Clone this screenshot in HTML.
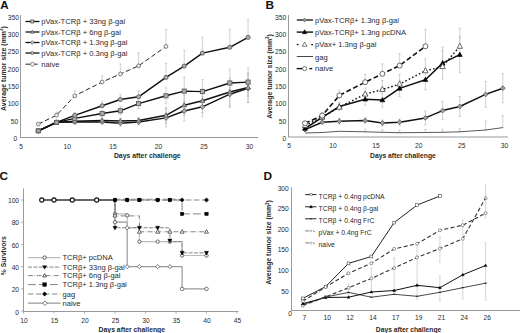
<!DOCTYPE html>
<html><head><meta charset="utf-8"><style>
html,body{margin:0;padding:0;background:#fff;}
body{width:520px;height:333px;overflow:hidden;}
svg{display:block;font-family:"Liberation Sans", sans-serif;}
</style></head><body>
<svg width="520" height="333" viewBox="0 0 520 333">
<rect width="520" height="333" fill="#fff"/>
<text x="0.20" y="8.90" font-size="11.6" text-anchor="start" font-weight="bold" fill="#111" >A</text>
<text x="265.60" y="8.50" font-size="11.8" text-anchor="start" font-weight="bold" fill="#111" >B</text>
<text x="-0.60" y="179.60" font-size="11.8" text-anchor="start" font-weight="bold" fill="#111" >C</text>
<text x="263.50" y="180.20" font-size="11.8" text-anchor="start" font-weight="bold" fill="#111" >D</text>
<line x1="20.50" y1="15.00" x2="20.50" y2="137.50" stroke="#9a9a9a" stroke-width="1" />
<line x1="20.00" y1="137.50" x2="258.00" y2="137.50" stroke="#9a9a9a" stroke-width="1" />
<text x="17.30" y="141.20" font-size="6.7" text-anchor="end" font-weight="normal" fill="#2a2a2a" >0</text>
<text x="18.30" y="123.53" font-size="6.7" text-anchor="end" font-weight="normal" fill="#2a2a2a" >50</text>
<text x="18.80" y="106.26" font-size="6.7" text-anchor="end" font-weight="normal" fill="#2a2a2a" >100</text>
<text x="18.90" y="88.99" font-size="6.7" text-anchor="end" font-weight="normal" fill="#2a2a2a" >150</text>
<text x="19.00" y="71.72" font-size="6.7" text-anchor="end" font-weight="normal" fill="#2a2a2a" >200</text>
<text x="19.00" y="54.45" font-size="6.7" text-anchor="end" font-weight="normal" fill="#2a2a2a" >250</text>
<text x="19.00" y="37.18" font-size="6.7" text-anchor="end" font-weight="normal" fill="#2a2a2a" >300</text>
<text x="19.00" y="19.91" font-size="6.7" text-anchor="end" font-weight="normal" fill="#2a2a2a" >350</text>
<text x="21.00" y="149.00" font-size="6.7" text-anchor="middle" font-weight="normal" fill="#2a2a2a" >5</text>
<text x="67.30" y="149.00" font-size="6.7" text-anchor="middle" font-weight="normal" fill="#2a2a2a" >10</text>
<text x="112.90" y="149.00" font-size="6.7" text-anchor="middle" font-weight="normal" fill="#2a2a2a" >15</text>
<text x="158.40" y="149.00" font-size="6.7" text-anchor="middle" font-weight="normal" fill="#2a2a2a" >20</text>
<text x="204.00" y="149.00" font-size="6.7" text-anchor="middle" font-weight="normal" fill="#2a2a2a" >25</text>
<text x="249.60" y="149.00" font-size="6.7" text-anchor="middle" font-weight="normal" fill="#2a2a2a" >30</text>
<text x="113.90" y="158.20" font-size="6.9" text-anchor="start" font-weight="bold" fill="#2a2a2a" textLength="66.8" lengthAdjust="spacingAndGlyphs">Days after challenge</text>
<text x="0" y="0" font-size="6.9" font-weight="bold" fill="#2a2a2a" text-anchor="middle" transform="translate(5.9,68.6) rotate(-90)">Average tumor size (mm<tspan font-size="4.5" dy="-2.6">3</tspan><tspan dy="2.6">)</tspan></text>
<line x1="74.78" y1="112.40" x2="74.78" y2="115.40" stroke="#bdbdbd" stroke-width="0.7" />
<line x1="73.58" y1="112.40" x2="75.98" y2="112.40" stroke="#bdbdbd" stroke-width="0.7" />
<line x1="73.58" y1="115.40" x2="75.98" y2="115.40" stroke="#bdbdbd" stroke-width="0.7" />
<line x1="102.14" y1="101.80" x2="102.14" y2="105.80" stroke="#bdbdbd" stroke-width="0.7" />
<line x1="100.94" y1="101.80" x2="103.34" y2="101.80" stroke="#bdbdbd" stroke-width="0.7" />
<line x1="100.94" y1="105.80" x2="103.34" y2="105.80" stroke="#bdbdbd" stroke-width="0.7" />
<line x1="120.38" y1="94.50" x2="120.38" y2="99.50" stroke="#bdbdbd" stroke-width="0.7" />
<line x1="119.18" y1="94.50" x2="121.58" y2="94.50" stroke="#bdbdbd" stroke-width="0.7" />
<line x1="119.18" y1="99.50" x2="121.58" y2="99.50" stroke="#bdbdbd" stroke-width="0.7" />
<line x1="138.62" y1="90.80" x2="138.62" y2="96.80" stroke="#bdbdbd" stroke-width="0.7" />
<line x1="137.42" y1="90.80" x2="139.82" y2="90.80" stroke="#bdbdbd" stroke-width="0.7" />
<line x1="137.42" y1="96.80" x2="139.82" y2="96.80" stroke="#bdbdbd" stroke-width="0.7" />
<line x1="165.98" y1="63.40" x2="165.98" y2="77.40" stroke="#bdbdbd" stroke-width="0.7" />
<line x1="164.78" y1="63.40" x2="167.18" y2="63.40" stroke="#bdbdbd" stroke-width="0.7" />
<line x1="164.78" y1="77.40" x2="167.18" y2="77.40" stroke="#bdbdbd" stroke-width="0.7" />
<line x1="184.22" y1="50.10" x2="184.22" y2="66.10" stroke="#bdbdbd" stroke-width="0.7" />
<line x1="183.02" y1="50.10" x2="185.42" y2="50.10" stroke="#bdbdbd" stroke-width="0.7" />
<line x1="183.02" y1="66.10" x2="185.42" y2="66.10" stroke="#bdbdbd" stroke-width="0.7" />
<line x1="202.46" y1="37.10" x2="202.46" y2="53.10" stroke="#bdbdbd" stroke-width="0.7" />
<line x1="201.26" y1="37.10" x2="203.66" y2="37.10" stroke="#bdbdbd" stroke-width="0.7" />
<line x1="201.26" y1="53.10" x2="203.66" y2="53.10" stroke="#bdbdbd" stroke-width="0.7" />
<line x1="229.82" y1="29.30" x2="229.82" y2="47.30" stroke="#bdbdbd" stroke-width="0.7" />
<line x1="228.62" y1="29.30" x2="231.02" y2="29.30" stroke="#bdbdbd" stroke-width="0.7" />
<line x1="228.62" y1="47.30" x2="231.02" y2="47.30" stroke="#bdbdbd" stroke-width="0.7" />
<line x1="248.06" y1="19.40" x2="248.06" y2="37.40" stroke="#bdbdbd" stroke-width="0.7" />
<line x1="246.86" y1="19.40" x2="249.26" y2="19.40" stroke="#bdbdbd" stroke-width="0.7" />
<line x1="246.86" y1="37.40" x2="249.26" y2="37.40" stroke="#bdbdbd" stroke-width="0.7" />
<line x1="74.78" y1="115.40" x2="74.78" y2="121.40" stroke="#bdbdbd" stroke-width="0.7" />
<line x1="73.58" y1="115.40" x2="75.98" y2="115.40" stroke="#bdbdbd" stroke-width="0.7" />
<line x1="73.58" y1="121.40" x2="75.98" y2="121.40" stroke="#bdbdbd" stroke-width="0.7" />
<line x1="102.14" y1="110.50" x2="102.14" y2="116.50" stroke="#bdbdbd" stroke-width="0.7" />
<line x1="100.94" y1="110.50" x2="103.34" y2="110.50" stroke="#bdbdbd" stroke-width="0.7" />
<line x1="100.94" y1="116.50" x2="103.34" y2="116.50" stroke="#bdbdbd" stroke-width="0.7" />
<line x1="120.38" y1="106.80" x2="120.38" y2="114.80" stroke="#bdbdbd" stroke-width="0.7" />
<line x1="119.18" y1="106.80" x2="121.58" y2="106.80" stroke="#bdbdbd" stroke-width="0.7" />
<line x1="119.18" y1="114.80" x2="121.58" y2="114.80" stroke="#bdbdbd" stroke-width="0.7" />
<line x1="138.62" y1="98.60" x2="138.62" y2="108.60" stroke="#bdbdbd" stroke-width="0.7" />
<line x1="137.42" y1="98.60" x2="139.82" y2="98.60" stroke="#bdbdbd" stroke-width="0.7" />
<line x1="137.42" y1="108.60" x2="139.82" y2="108.60" stroke="#bdbdbd" stroke-width="0.7" />
<line x1="165.98" y1="87.80" x2="165.98" y2="103.80" stroke="#bdbdbd" stroke-width="0.7" />
<line x1="164.78" y1="87.80" x2="167.18" y2="87.80" stroke="#bdbdbd" stroke-width="0.7" />
<line x1="164.78" y1="103.80" x2="167.18" y2="103.80" stroke="#bdbdbd" stroke-width="0.7" />
<line x1="184.22" y1="77.10" x2="184.22" y2="105.10" stroke="#bdbdbd" stroke-width="0.7" />
<line x1="183.02" y1="77.10" x2="185.42" y2="77.10" stroke="#bdbdbd" stroke-width="0.7" />
<line x1="183.02" y1="105.10" x2="185.42" y2="105.10" stroke="#bdbdbd" stroke-width="0.7" />
<line x1="202.46" y1="79.60" x2="202.46" y2="103.60" stroke="#bdbdbd" stroke-width="0.7" />
<line x1="201.26" y1="79.60" x2="203.66" y2="79.60" stroke="#bdbdbd" stroke-width="0.7" />
<line x1="201.26" y1="103.60" x2="203.66" y2="103.60" stroke="#bdbdbd" stroke-width="0.7" />
<line x1="229.82" y1="69.00" x2="229.82" y2="97.00" stroke="#bdbdbd" stroke-width="0.7" />
<line x1="228.62" y1="69.00" x2="231.02" y2="69.00" stroke="#bdbdbd" stroke-width="0.7" />
<line x1="228.62" y1="97.00" x2="231.02" y2="97.00" stroke="#bdbdbd" stroke-width="0.7" />
<line x1="248.06" y1="68.10" x2="248.06" y2="96.10" stroke="#bdbdbd" stroke-width="0.7" />
<line x1="246.86" y1="68.10" x2="249.26" y2="68.10" stroke="#bdbdbd" stroke-width="0.7" />
<line x1="246.86" y1="96.10" x2="249.26" y2="96.10" stroke="#bdbdbd" stroke-width="0.7" />
<line x1="102.14" y1="117.50" x2="102.14" y2="123.50" stroke="#bdbdbd" stroke-width="0.7" />
<line x1="100.94" y1="117.50" x2="103.34" y2="117.50" stroke="#bdbdbd" stroke-width="0.7" />
<line x1="100.94" y1="123.50" x2="103.34" y2="123.50" stroke="#bdbdbd" stroke-width="0.7" />
<line x1="120.38" y1="118.00" x2="120.38" y2="124.00" stroke="#bdbdbd" stroke-width="0.7" />
<line x1="119.18" y1="118.00" x2="121.58" y2="118.00" stroke="#bdbdbd" stroke-width="0.7" />
<line x1="119.18" y1="124.00" x2="121.58" y2="124.00" stroke="#bdbdbd" stroke-width="0.7" />
<line x1="138.62" y1="117.50" x2="138.62" y2="123.50" stroke="#bdbdbd" stroke-width="0.7" />
<line x1="137.42" y1="117.50" x2="139.82" y2="117.50" stroke="#bdbdbd" stroke-width="0.7" />
<line x1="137.42" y1="123.50" x2="139.82" y2="123.50" stroke="#bdbdbd" stroke-width="0.7" />
<line x1="165.98" y1="107.30" x2="165.98" y2="123.30" stroke="#bdbdbd" stroke-width="0.7" />
<line x1="164.78" y1="107.30" x2="167.18" y2="107.30" stroke="#bdbdbd" stroke-width="0.7" />
<line x1="164.78" y1="123.30" x2="167.18" y2="123.30" stroke="#bdbdbd" stroke-width="0.7" />
<line x1="184.22" y1="95.20" x2="184.22" y2="115.20" stroke="#bdbdbd" stroke-width="0.7" />
<line x1="183.02" y1="95.20" x2="185.42" y2="95.20" stroke="#bdbdbd" stroke-width="0.7" />
<line x1="183.02" y1="115.20" x2="185.42" y2="115.20" stroke="#bdbdbd" stroke-width="0.7" />
<line x1="202.46" y1="88.70" x2="202.46" y2="112.70" stroke="#bdbdbd" stroke-width="0.7" />
<line x1="201.26" y1="88.70" x2="203.66" y2="88.70" stroke="#bdbdbd" stroke-width="0.7" />
<line x1="201.26" y1="112.70" x2="203.66" y2="112.70" stroke="#bdbdbd" stroke-width="0.7" />
<line x1="229.82" y1="78.00" x2="229.82" y2="106.00" stroke="#bdbdbd" stroke-width="0.7" />
<line x1="228.62" y1="78.00" x2="231.02" y2="78.00" stroke="#bdbdbd" stroke-width="0.7" />
<line x1="228.62" y1="106.00" x2="231.02" y2="106.00" stroke="#bdbdbd" stroke-width="0.7" />
<line x1="248.06" y1="72.50" x2="248.06" y2="102.50" stroke="#bdbdbd" stroke-width="0.7" />
<line x1="246.86" y1="72.50" x2="249.26" y2="72.50" stroke="#bdbdbd" stroke-width="0.7" />
<line x1="246.86" y1="102.50" x2="249.26" y2="102.50" stroke="#bdbdbd" stroke-width="0.7" />
<line x1="120.38" y1="120.20" x2="120.38" y2="126.20" stroke="#bdbdbd" stroke-width="0.7" />
<line x1="119.18" y1="120.20" x2="121.58" y2="120.20" stroke="#bdbdbd" stroke-width="0.7" />
<line x1="119.18" y1="126.20" x2="121.58" y2="126.20" stroke="#bdbdbd" stroke-width="0.7" />
<line x1="138.62" y1="119.00" x2="138.62" y2="125.00" stroke="#bdbdbd" stroke-width="0.7" />
<line x1="137.42" y1="119.00" x2="139.82" y2="119.00" stroke="#bdbdbd" stroke-width="0.7" />
<line x1="137.42" y1="125.00" x2="139.82" y2="125.00" stroke="#bdbdbd" stroke-width="0.7" />
<line x1="165.98" y1="108.90" x2="165.98" y2="126.90" stroke="#bdbdbd" stroke-width="0.7" />
<line x1="164.78" y1="108.90" x2="167.18" y2="108.90" stroke="#bdbdbd" stroke-width="0.7" />
<line x1="164.78" y1="126.90" x2="167.18" y2="126.90" stroke="#bdbdbd" stroke-width="0.7" />
<line x1="184.22" y1="101.00" x2="184.22" y2="121.00" stroke="#bdbdbd" stroke-width="0.7" />
<line x1="183.02" y1="101.00" x2="185.42" y2="101.00" stroke="#bdbdbd" stroke-width="0.7" />
<line x1="183.02" y1="121.00" x2="185.42" y2="121.00" stroke="#bdbdbd" stroke-width="0.7" />
<line x1="202.46" y1="96.80" x2="202.46" y2="116.80" stroke="#bdbdbd" stroke-width="0.7" />
<line x1="201.26" y1="96.80" x2="203.66" y2="96.80" stroke="#bdbdbd" stroke-width="0.7" />
<line x1="201.26" y1="116.80" x2="203.66" y2="116.80" stroke="#bdbdbd" stroke-width="0.7" />
<line x1="229.82" y1="81.20" x2="229.82" y2="107.20" stroke="#bdbdbd" stroke-width="0.7" />
<line x1="228.62" y1="81.20" x2="231.02" y2="81.20" stroke="#bdbdbd" stroke-width="0.7" />
<line x1="228.62" y1="107.20" x2="231.02" y2="107.20" stroke="#bdbdbd" stroke-width="0.7" />
<line x1="248.06" y1="74.40" x2="248.06" y2="102.40" stroke="#bdbdbd" stroke-width="0.7" />
<line x1="246.86" y1="74.40" x2="249.26" y2="74.40" stroke="#bdbdbd" stroke-width="0.7" />
<line x1="246.86" y1="102.40" x2="249.26" y2="102.40" stroke="#bdbdbd" stroke-width="0.7" />
<line x1="56.54" y1="112.20" x2="56.54" y2="115.20" stroke="#bdbdbd" stroke-width="0.7" />
<line x1="55.34" y1="112.20" x2="57.74" y2="112.20" stroke="#bdbdbd" stroke-width="0.7" />
<line x1="55.34" y1="115.20" x2="57.74" y2="115.20" stroke="#bdbdbd" stroke-width="0.7" />
<line x1="74.78" y1="90.80" x2="74.78" y2="95.80" stroke="#bdbdbd" stroke-width="0.7" />
<line x1="73.58" y1="90.80" x2="75.98" y2="90.80" stroke="#bdbdbd" stroke-width="0.7" />
<line x1="73.58" y1="95.80" x2="75.98" y2="95.80" stroke="#bdbdbd" stroke-width="0.7" />
<line x1="102.14" y1="76.00" x2="102.14" y2="82.00" stroke="#bdbdbd" stroke-width="0.7" />
<line x1="100.94" y1="76.00" x2="103.34" y2="76.00" stroke="#bdbdbd" stroke-width="0.7" />
<line x1="100.94" y1="82.00" x2="103.34" y2="82.00" stroke="#bdbdbd" stroke-width="0.7" />
<line x1="120.38" y1="64.00" x2="120.38" y2="74.00" stroke="#bdbdbd" stroke-width="0.7" />
<line x1="119.18" y1="64.00" x2="121.58" y2="64.00" stroke="#bdbdbd" stroke-width="0.7" />
<line x1="119.18" y1="74.00" x2="121.58" y2="74.00" stroke="#bdbdbd" stroke-width="0.7" />
<line x1="138.62" y1="52.80" x2="138.62" y2="65.80" stroke="#bdbdbd" stroke-width="0.7" />
<line x1="137.42" y1="52.80" x2="139.82" y2="52.80" stroke="#bdbdbd" stroke-width="0.7" />
<line x1="137.42" y1="65.80" x2="139.82" y2="65.80" stroke="#bdbdbd" stroke-width="0.7" />
<line x1="165.98" y1="29.50" x2="165.98" y2="46.50" stroke="#bdbdbd" stroke-width="0.7" />
<line x1="164.78" y1="29.50" x2="167.18" y2="29.50" stroke="#bdbdbd" stroke-width="0.7" />
<line x1="164.78" y1="46.50" x2="167.18" y2="46.50" stroke="#bdbdbd" stroke-width="0.7" />
<polyline points="38.30,130.80 56.54,122.40 74.78,122.00 102.14,122.00 120.38,123.20 138.62,122.00 165.98,117.90 184.22,111.00 202.46,106.80 229.82,94.20 248.06,88.40" fill="none" stroke="#111" stroke-width="1.45" stroke-linejoin="round" stroke-linecap="butt"/>
<polyline points="38.30,130.80 56.54,122.40 74.78,121.20 102.14,120.50 120.38,121.00 138.62,120.50 165.98,115.30 184.22,105.20 202.46,100.70 229.82,92.00 248.06,87.50" fill="none" stroke="#111" stroke-width="1.45" stroke-linejoin="round" stroke-linecap="butt"/>
<polyline points="38.30,130.80 56.54,122.40 74.78,118.40 102.14,113.50 120.38,110.80 138.62,103.60 165.98,95.80 184.22,91.10 202.46,91.60 229.82,83.00 248.06,82.10" fill="none" stroke="#111" stroke-width="1.45" stroke-linejoin="round" stroke-linecap="butt"/>
<polyline points="38.30,130.80 56.54,122.40 74.78,115.40 102.14,105.80 120.38,99.50 138.62,96.80 165.98,77.40 184.22,66.10 202.46,53.10 229.82,47.30 248.06,37.40" fill="none" stroke="#111" stroke-width="1.45" stroke-linejoin="round" stroke-linecap="butt"/>
<polyline points="38.30,124.10 56.54,115.20 74.78,95.80 102.14,82.00 120.38,74.00 138.62,65.80 165.98,46.50" fill="none" stroke="#222" stroke-width="1.0" stroke-linejoin="round" stroke-linecap="butt" stroke-dasharray="4.8,2.6"/>
<polygon points="38.30,128.28 40.82,130.80 38.30,133.32 35.78,130.80" fill="#aaa" stroke="#555" stroke-width="0.8"/>
<polygon points="56.54,119.88 59.06,122.40 56.54,124.92 54.02,122.40" fill="#aaa" stroke="#555" stroke-width="0.8"/>
<polygon points="74.78,119.48 77.30,122.00 74.78,124.52 72.26,122.00" fill="#aaa" stroke="#555" stroke-width="0.8"/>
<polygon points="102.14,119.48 104.66,122.00 102.14,124.52 99.62,122.00" fill="#aaa" stroke="#555" stroke-width="0.8"/>
<polygon points="120.38,120.68 122.90,123.20 120.38,125.72 117.86,123.20" fill="#aaa" stroke="#555" stroke-width="0.8"/>
<polygon points="138.62,119.48 141.14,122.00 138.62,124.52 136.10,122.00" fill="#aaa" stroke="#555" stroke-width="0.8"/>
<polygon points="165.98,115.38 168.50,117.90 165.98,120.42 163.46,117.90" fill="#aaa" stroke="#555" stroke-width="0.8"/>
<polygon points="184.22,108.48 186.74,111.00 184.22,113.52 181.70,111.00" fill="#aaa" stroke="#555" stroke-width="0.8"/>
<polygon points="202.46,104.28 204.98,106.80 202.46,109.32 199.94,106.80" fill="#aaa" stroke="#555" stroke-width="0.8"/>
<polygon points="229.82,91.68 232.34,94.20 229.82,96.72 227.30,94.20" fill="#aaa" stroke="#555" stroke-width="0.8"/>
<polygon points="248.06,85.88 250.58,88.40 248.06,90.92 245.54,88.40" fill="#aaa" stroke="#555" stroke-width="0.8"/>
<polygon points="38.30,128.28 40.61,132.48 35.99,132.48" fill="#aaa" stroke="#555" stroke-width="0.8"/>
<polygon points="56.54,119.88 58.85,124.08 54.23,124.08" fill="#aaa" stroke="#555" stroke-width="0.8"/>
<polygon points="74.78,118.68 77.09,122.88 72.47,122.88" fill="#aaa" stroke="#555" stroke-width="0.8"/>
<polygon points="102.14,117.98 104.45,122.18 99.83,122.18" fill="#aaa" stroke="#555" stroke-width="0.8"/>
<polygon points="120.38,118.48 122.69,122.68 118.07,122.68" fill="#aaa" stroke="#555" stroke-width="0.8"/>
<polygon points="138.62,117.98 140.93,122.18 136.31,122.18" fill="#aaa" stroke="#555" stroke-width="0.8"/>
<polygon points="165.98,112.78 168.29,116.98 163.67,116.98" fill="#aaa" stroke="#555" stroke-width="0.8"/>
<polygon points="184.22,102.68 186.53,106.88 181.91,106.88" fill="#aaa" stroke="#555" stroke-width="0.8"/>
<polygon points="202.46,98.18 204.77,102.38 200.15,102.38" fill="#aaa" stroke="#555" stroke-width="0.8"/>
<polygon points="229.82,89.48 232.13,93.68 227.51,93.68" fill="#aaa" stroke="#555" stroke-width="0.8"/>
<polygon points="248.06,84.98 250.37,89.18 245.75,89.18" fill="#aaa" stroke="#555" stroke-width="0.8"/>
<rect x="36.20" y="128.70" width="4.2" height="4.2" fill="#aaa" stroke="#555" stroke-width="0.8"/>
<rect x="54.44" y="120.30" width="4.2" height="4.2" fill="#aaa" stroke="#555" stroke-width="0.8"/>
<rect x="72.68" y="116.30" width="4.2" height="4.2" fill="#aaa" stroke="#555" stroke-width="0.8"/>
<rect x="100.04" y="111.40" width="4.2" height="4.2" fill="#aaa" stroke="#555" stroke-width="0.8"/>
<rect x="118.28" y="108.70" width="4.2" height="4.2" fill="#aaa" stroke="#555" stroke-width="0.8"/>
<rect x="136.52" y="101.50" width="4.2" height="4.2" fill="#aaa" stroke="#555" stroke-width="0.8"/>
<rect x="163.88" y="93.70" width="4.2" height="4.2" fill="#aaa" stroke="#555" stroke-width="0.8"/>
<rect x="182.12" y="89.00" width="4.2" height="4.2" fill="#aaa" stroke="#555" stroke-width="0.8"/>
<rect x="200.36" y="89.50" width="4.2" height="4.2" fill="#aaa" stroke="#555" stroke-width="0.8"/>
<rect x="227.72" y="80.90" width="4.2" height="4.2" fill="#aaa" stroke="#555" stroke-width="0.8"/>
<rect x="245.96" y="80.00" width="4.2" height="4.2" fill="#aaa" stroke="#555" stroke-width="0.8"/>
<circle cx="38.30" cy="130.80" r="2.1" fill="#aaa" stroke="#555" stroke-width="0.8"/>
<circle cx="56.54" cy="122.40" r="2.1" fill="#aaa" stroke="#555" stroke-width="0.8"/>
<circle cx="74.78" cy="115.40" r="2.1" fill="#aaa" stroke="#555" stroke-width="0.8"/>
<circle cx="102.14" cy="105.80" r="2.1" fill="#aaa" stroke="#555" stroke-width="0.8"/>
<circle cx="120.38" cy="99.50" r="2.1" fill="#aaa" stroke="#555" stroke-width="0.8"/>
<circle cx="138.62" cy="96.80" r="2.1" fill="#aaa" stroke="#555" stroke-width="0.8"/>
<circle cx="165.98" cy="77.40" r="2.1" fill="#aaa" stroke="#555" stroke-width="0.8"/>
<circle cx="184.22" cy="66.10" r="2.1" fill="#aaa" stroke="#555" stroke-width="0.8"/>
<circle cx="202.46" cy="53.10" r="2.1" fill="#aaa" stroke="#555" stroke-width="0.8"/>
<circle cx="229.82" cy="47.30" r="2.1" fill="#aaa" stroke="#555" stroke-width="0.8"/>
<circle cx="248.06" cy="37.40" r="2.1" fill="#aaa" stroke="#555" stroke-width="0.8"/>
<circle cx="38.30" cy="124.10" r="1.9" fill="#eee" stroke="#666" stroke-width="0.8"/>
<circle cx="56.54" cy="115.20" r="1.9" fill="#eee" stroke="#666" stroke-width="0.8"/>
<circle cx="74.78" cy="95.80" r="1.9" fill="#eee" stroke="#666" stroke-width="0.8"/>
<circle cx="102.14" cy="82.00" r="1.9" fill="#eee" stroke="#666" stroke-width="0.8"/>
<circle cx="120.38" cy="74.00" r="1.9" fill="#eee" stroke="#666" stroke-width="0.8"/>
<circle cx="138.62" cy="65.80" r="1.9" fill="#eee" stroke="#666" stroke-width="0.8"/>
<circle cx="165.98" cy="46.50" r="1.9" fill="#eee" stroke="#666" stroke-width="0.8"/>
<line x1="25.50" y1="21.50" x2="39.50" y2="21.50" stroke="#111" stroke-width="1.3" />
<rect x="30.80" y="20.00" width="3.0" height="3.0" fill="#ccc" stroke="#444" stroke-width="0.7"/>
<text x="41.30" y="24.30" font-size="7.6" text-anchor="start" font-weight="normal" fill="#2a2a2a" >pVax-TCRβ + 33ng β-gal</text>
<line x1="25.50" y1="32.00" x2="39.50" y2="32.00" stroke="#111" stroke-width="1.3" />
<polygon points="32.30,30.20 33.95,33.20 30.65,33.20" fill="#ccc" stroke="#444" stroke-width="0.7"/>
<text x="41.30" y="34.80" font-size="7.6" text-anchor="start" font-weight="normal" fill="#2a2a2a" >pVax-TCRβ + 6ng β-gal</text>
<line x1="25.50" y1="42.50" x2="39.50" y2="42.50" stroke="#111" stroke-width="1.3" />
<polygon points="32.30,40.70 34.10,42.50 32.30,44.30 30.50,42.50" fill="#ccc" stroke="#444" stroke-width="0.7"/>
<text x="41.30" y="45.30" font-size="7.6" text-anchor="start" font-weight="normal" fill="#2a2a2a" >pVax-TCRβ + 1.3ng β-gal</text>
<line x1="25.50" y1="53.00" x2="39.50" y2="53.00" stroke="#111" stroke-width="1.3" />
<circle cx="32.30" cy="53.00" r="1.5" fill="#ccc" stroke="#444" stroke-width="0.7"/>
<text x="41.30" y="55.80" font-size="7.6" text-anchor="start" font-weight="normal" fill="#2a2a2a" >pVax-TCRβ + 0.3ng β-gal</text>
<line x1="25.50" y1="64.20" x2="30.40" y2="64.20" stroke="#333" stroke-width="1.1" />
<line x1="34.20" y1="64.20" x2="37.60" y2="64.20" stroke="#333" stroke-width="1.1" />
<circle cx="32.50" cy="64.20" r="1.9" fill="#fff" stroke="#555" stroke-width="0.7"/>
<text x="41.30" y="67.00" font-size="7.6" text-anchor="start" font-weight="normal" fill="#2a2a2a" >naive</text>
<line x1="288.50" y1="15.00" x2="288.50" y2="137.00" stroke="#9a9a9a" stroke-width="1" />
<line x1="288.00" y1="137.00" x2="508.00" y2="137.00" stroke="#9a9a9a" stroke-width="1" />
<text x="286.20" y="140.80" font-size="6.7" text-anchor="end" font-weight="normal" fill="#2a2a2a" >0</text>
<text x="286.20" y="123.53" font-size="6.7" text-anchor="end" font-weight="normal" fill="#2a2a2a" >50</text>
<text x="286.20" y="106.26" font-size="6.7" text-anchor="end" font-weight="normal" fill="#2a2a2a" >100</text>
<text x="286.20" y="88.99" font-size="6.7" text-anchor="end" font-weight="normal" fill="#2a2a2a" >150</text>
<text x="286.20" y="71.72" font-size="6.7" text-anchor="end" font-weight="normal" fill="#2a2a2a" >200</text>
<text x="286.20" y="54.45" font-size="6.7" text-anchor="end" font-weight="normal" fill="#2a2a2a" >250</text>
<text x="286.20" y="37.18" font-size="6.7" text-anchor="end" font-weight="normal" fill="#2a2a2a" >300</text>
<text x="286.20" y="19.91" font-size="6.7" text-anchor="end" font-weight="normal" fill="#2a2a2a" >350</text>
<text x="289.10" y="148.30" font-size="6.7" text-anchor="middle" font-weight="normal" fill="#2a2a2a" >5</text>
<text x="333.10" y="148.30" font-size="6.7" text-anchor="middle" font-weight="normal" fill="#2a2a2a" >10</text>
<text x="376.00" y="148.30" font-size="6.7" text-anchor="middle" font-weight="normal" fill="#2a2a2a" >15</text>
<text x="418.80" y="148.30" font-size="6.7" text-anchor="middle" font-weight="normal" fill="#2a2a2a" >20</text>
<text x="461.70" y="148.30" font-size="6.7" text-anchor="middle" font-weight="normal" fill="#2a2a2a" >25</text>
<text x="504.40" y="148.30" font-size="6.7" text-anchor="middle" font-weight="normal" fill="#2a2a2a" >30</text>
<text x="370.00" y="158.20" font-size="6.9" text-anchor="start" font-weight="bold" fill="#2a2a2a" textLength="65.8" lengthAdjust="spacingAndGlyphs">Days after challenge</text>
<text x="0" y="0" font-size="6.9" font-weight="bold" fill="#2a2a2a" text-anchor="middle" transform="translate(272,76.4) rotate(-90)">Average tumor size (mm<tspan font-size="4.5" dy="-2.6">3</tspan><tspan dy="2.6">)</tspan></text>
<line x1="339.40" y1="118.20" x2="339.40" y2="124.20" stroke="#bdbdbd" stroke-width="0.7" />
<line x1="338.20" y1="118.20" x2="340.60" y2="118.20" stroke="#bdbdbd" stroke-width="0.7" />
<line x1="338.20" y1="124.20" x2="340.60" y2="124.20" stroke="#bdbdbd" stroke-width="0.7" />
<line x1="365.20" y1="117.60" x2="365.20" y2="123.60" stroke="#bdbdbd" stroke-width="0.7" />
<line x1="364.00" y1="117.60" x2="366.40" y2="117.60" stroke="#bdbdbd" stroke-width="0.7" />
<line x1="364.00" y1="123.60" x2="366.40" y2="123.60" stroke="#bdbdbd" stroke-width="0.7" />
<line x1="382.40" y1="120.00" x2="382.40" y2="126.00" stroke="#bdbdbd" stroke-width="0.7" />
<line x1="381.20" y1="120.00" x2="383.60" y2="120.00" stroke="#bdbdbd" stroke-width="0.7" />
<line x1="381.20" y1="126.00" x2="383.60" y2="126.00" stroke="#bdbdbd" stroke-width="0.7" />
<line x1="399.60" y1="119.20" x2="399.60" y2="125.20" stroke="#bdbdbd" stroke-width="0.7" />
<line x1="398.40" y1="119.20" x2="400.80" y2="119.20" stroke="#bdbdbd" stroke-width="0.7" />
<line x1="398.40" y1="125.20" x2="400.80" y2="125.20" stroke="#bdbdbd" stroke-width="0.7" />
<line x1="425.40" y1="110.90" x2="425.40" y2="124.90" stroke="#bdbdbd" stroke-width="0.7" />
<line x1="424.20" y1="110.90" x2="426.60" y2="110.90" stroke="#bdbdbd" stroke-width="0.7" />
<line x1="424.20" y1="124.90" x2="426.60" y2="124.90" stroke="#bdbdbd" stroke-width="0.7" />
<line x1="442.60" y1="101.60" x2="442.60" y2="119.60" stroke="#bdbdbd" stroke-width="0.7" />
<line x1="441.40" y1="101.60" x2="443.80" y2="101.60" stroke="#bdbdbd" stroke-width="0.7" />
<line x1="441.40" y1="119.60" x2="443.80" y2="119.60" stroke="#bdbdbd" stroke-width="0.7" />
<line x1="459.80" y1="96.50" x2="459.80" y2="116.50" stroke="#bdbdbd" stroke-width="0.7" />
<line x1="458.60" y1="96.50" x2="461.00" y2="96.50" stroke="#bdbdbd" stroke-width="0.7" />
<line x1="458.60" y1="116.50" x2="461.00" y2="116.50" stroke="#bdbdbd" stroke-width="0.7" />
<line x1="485.60" y1="81.40" x2="485.60" y2="107.40" stroke="#bdbdbd" stroke-width="0.7" />
<line x1="484.40" y1="81.40" x2="486.80" y2="81.40" stroke="#bdbdbd" stroke-width="0.7" />
<line x1="484.40" y1="107.40" x2="486.80" y2="107.40" stroke="#bdbdbd" stroke-width="0.7" />
<line x1="502.80" y1="73.70" x2="502.80" y2="102.70" stroke="#bdbdbd" stroke-width="0.7" />
<line x1="501.60" y1="73.70" x2="504.00" y2="73.70" stroke="#bdbdbd" stroke-width="0.7" />
<line x1="501.60" y1="102.70" x2="504.00" y2="102.70" stroke="#bdbdbd" stroke-width="0.7" />
<line x1="365.20" y1="129.30" x2="365.20" y2="131.80" stroke="#bdbdbd" stroke-width="0.7" />
<line x1="364.00" y1="129.30" x2="366.40" y2="129.30" stroke="#bdbdbd" stroke-width="0.7" />
<line x1="364.00" y1="131.80" x2="366.40" y2="131.80" stroke="#bdbdbd" stroke-width="0.7" />
<line x1="382.40" y1="129.80" x2="382.40" y2="132.30" stroke="#bdbdbd" stroke-width="0.7" />
<line x1="381.20" y1="129.80" x2="383.60" y2="129.80" stroke="#bdbdbd" stroke-width="0.7" />
<line x1="381.20" y1="132.30" x2="383.60" y2="132.30" stroke="#bdbdbd" stroke-width="0.7" />
<line x1="399.60" y1="130.20" x2="399.60" y2="132.70" stroke="#bdbdbd" stroke-width="0.7" />
<line x1="398.40" y1="130.20" x2="400.80" y2="130.20" stroke="#bdbdbd" stroke-width="0.7" />
<line x1="398.40" y1="132.70" x2="400.80" y2="132.70" stroke="#bdbdbd" stroke-width="0.7" />
<line x1="425.40" y1="129.50" x2="425.40" y2="132.50" stroke="#bdbdbd" stroke-width="0.7" />
<line x1="424.20" y1="129.50" x2="426.60" y2="129.50" stroke="#bdbdbd" stroke-width="0.7" />
<line x1="424.20" y1="132.50" x2="426.60" y2="132.50" stroke="#bdbdbd" stroke-width="0.7" />
<line x1="442.60" y1="129.30" x2="442.60" y2="132.30" stroke="#bdbdbd" stroke-width="0.7" />
<line x1="441.40" y1="129.30" x2="443.80" y2="129.30" stroke="#bdbdbd" stroke-width="0.7" />
<line x1="441.40" y1="132.30" x2="443.80" y2="132.30" stroke="#bdbdbd" stroke-width="0.7" />
<line x1="459.80" y1="128.80" x2="459.80" y2="131.80" stroke="#bdbdbd" stroke-width="0.7" />
<line x1="458.60" y1="128.80" x2="461.00" y2="128.80" stroke="#bdbdbd" stroke-width="0.7" />
<line x1="458.60" y1="131.80" x2="461.00" y2="131.80" stroke="#bdbdbd" stroke-width="0.7" />
<line x1="485.60" y1="121.00" x2="485.60" y2="130.00" stroke="#bdbdbd" stroke-width="0.7" />
<line x1="484.40" y1="121.00" x2="486.80" y2="121.00" stroke="#bdbdbd" stroke-width="0.7" />
<line x1="484.40" y1="130.00" x2="486.80" y2="130.00" stroke="#bdbdbd" stroke-width="0.7" />
<line x1="502.80" y1="115.60" x2="502.80" y2="127.60" stroke="#bdbdbd" stroke-width="0.7" />
<line x1="501.60" y1="115.60" x2="504.00" y2="115.60" stroke="#bdbdbd" stroke-width="0.7" />
<line x1="501.60" y1="127.60" x2="504.00" y2="127.60" stroke="#bdbdbd" stroke-width="0.7" />
<line x1="322.20" y1="114.30" x2="322.20" y2="120.30" stroke="#bdbdbd" stroke-width="0.7" />
<line x1="321.00" y1="114.30" x2="323.40" y2="114.30" stroke="#bdbdbd" stroke-width="0.7" />
<line x1="321.00" y1="120.30" x2="323.40" y2="120.30" stroke="#bdbdbd" stroke-width="0.7" />
<line x1="339.40" y1="102.50" x2="339.40" y2="110.50" stroke="#bdbdbd" stroke-width="0.7" />
<line x1="338.20" y1="102.50" x2="340.60" y2="102.50" stroke="#bdbdbd" stroke-width="0.7" />
<line x1="338.20" y1="110.50" x2="340.60" y2="110.50" stroke="#bdbdbd" stroke-width="0.7" />
<line x1="365.20" y1="93.30" x2="365.20" y2="105.30" stroke="#bdbdbd" stroke-width="0.7" />
<line x1="364.00" y1="93.30" x2="366.40" y2="93.30" stroke="#bdbdbd" stroke-width="0.7" />
<line x1="364.00" y1="105.30" x2="366.40" y2="105.30" stroke="#bdbdbd" stroke-width="0.7" />
<line x1="382.40" y1="93.10" x2="382.40" y2="107.10" stroke="#bdbdbd" stroke-width="0.7" />
<line x1="381.20" y1="93.10" x2="383.60" y2="93.10" stroke="#bdbdbd" stroke-width="0.7" />
<line x1="381.20" y1="107.10" x2="383.60" y2="107.10" stroke="#bdbdbd" stroke-width="0.7" />
<line x1="399.60" y1="80.40" x2="399.60" y2="96.40" stroke="#bdbdbd" stroke-width="0.7" />
<line x1="398.40" y1="80.40" x2="400.80" y2="80.40" stroke="#bdbdbd" stroke-width="0.7" />
<line x1="398.40" y1="96.40" x2="400.80" y2="96.40" stroke="#bdbdbd" stroke-width="0.7" />
<line x1="425.40" y1="69.80" x2="425.40" y2="89.80" stroke="#bdbdbd" stroke-width="0.7" />
<line x1="424.20" y1="69.80" x2="426.60" y2="69.80" stroke="#bdbdbd" stroke-width="0.7" />
<line x1="424.20" y1="89.80" x2="426.60" y2="89.80" stroke="#bdbdbd" stroke-width="0.7" />
<line x1="442.60" y1="47.10" x2="442.60" y2="79.10" stroke="#bdbdbd" stroke-width="0.7" />
<line x1="441.40" y1="47.10" x2="443.80" y2="47.10" stroke="#bdbdbd" stroke-width="0.7" />
<line x1="441.40" y1="79.10" x2="443.80" y2="79.10" stroke="#bdbdbd" stroke-width="0.7" />
<line x1="459.80" y1="36.70" x2="459.80" y2="72.70" stroke="#bdbdbd" stroke-width="0.7" />
<line x1="458.60" y1="36.70" x2="461.00" y2="36.70" stroke="#bdbdbd" stroke-width="0.7" />
<line x1="458.60" y1="72.70" x2="461.00" y2="72.70" stroke="#bdbdbd" stroke-width="0.7" />
<line x1="322.20" y1="114.00" x2="322.20" y2="117.00" stroke="#bdbdbd" stroke-width="0.7" />
<line x1="321.00" y1="114.00" x2="323.40" y2="114.00" stroke="#bdbdbd" stroke-width="0.7" />
<line x1="321.00" y1="117.00" x2="323.40" y2="117.00" stroke="#bdbdbd" stroke-width="0.7" />
<line x1="339.40" y1="103.20" x2="339.40" y2="107.20" stroke="#bdbdbd" stroke-width="0.7" />
<line x1="338.20" y1="103.20" x2="340.60" y2="103.20" stroke="#bdbdbd" stroke-width="0.7" />
<line x1="338.20" y1="107.20" x2="340.60" y2="107.20" stroke="#bdbdbd" stroke-width="0.7" />
<line x1="365.20" y1="88.10" x2="365.20" y2="94.10" stroke="#bdbdbd" stroke-width="0.7" />
<line x1="364.00" y1="88.10" x2="366.40" y2="88.10" stroke="#bdbdbd" stroke-width="0.7" />
<line x1="364.00" y1="94.10" x2="366.40" y2="94.10" stroke="#bdbdbd" stroke-width="0.7" />
<line x1="382.40" y1="80.50" x2="382.40" y2="89.50" stroke="#bdbdbd" stroke-width="0.7" />
<line x1="381.20" y1="80.50" x2="383.60" y2="80.50" stroke="#bdbdbd" stroke-width="0.7" />
<line x1="381.20" y1="89.50" x2="383.60" y2="89.50" stroke="#bdbdbd" stroke-width="0.7" />
<line x1="399.60" y1="74.10" x2="399.60" y2="84.10" stroke="#bdbdbd" stroke-width="0.7" />
<line x1="398.40" y1="74.10" x2="400.80" y2="74.10" stroke="#bdbdbd" stroke-width="0.7" />
<line x1="398.40" y1="84.10" x2="400.80" y2="84.10" stroke="#bdbdbd" stroke-width="0.7" />
<line x1="425.40" y1="58.80" x2="425.40" y2="70.80" stroke="#bdbdbd" stroke-width="0.7" />
<line x1="424.20" y1="58.80" x2="426.60" y2="58.80" stroke="#bdbdbd" stroke-width="0.7" />
<line x1="424.20" y1="70.80" x2="426.60" y2="70.80" stroke="#bdbdbd" stroke-width="0.7" />
<line x1="442.60" y1="50.60" x2="442.60" y2="66.60" stroke="#bdbdbd" stroke-width="0.7" />
<line x1="441.40" y1="50.60" x2="443.80" y2="50.60" stroke="#bdbdbd" stroke-width="0.7" />
<line x1="441.40" y1="66.60" x2="443.80" y2="66.60" stroke="#bdbdbd" stroke-width="0.7" />
<line x1="459.80" y1="28.30" x2="459.80" y2="46.30" stroke="#bdbdbd" stroke-width="0.7" />
<line x1="458.60" y1="28.30" x2="461.00" y2="28.30" stroke="#bdbdbd" stroke-width="0.7" />
<line x1="458.60" y1="46.30" x2="461.00" y2="46.30" stroke="#bdbdbd" stroke-width="0.7" />
<line x1="322.20" y1="112.50" x2="322.20" y2="115.50" stroke="#bdbdbd" stroke-width="0.7" />
<line x1="321.00" y1="112.50" x2="323.40" y2="112.50" stroke="#bdbdbd" stroke-width="0.7" />
<line x1="321.00" y1="115.50" x2="323.40" y2="115.50" stroke="#bdbdbd" stroke-width="0.7" />
<line x1="339.40" y1="90.40" x2="339.40" y2="95.40" stroke="#bdbdbd" stroke-width="0.7" />
<line x1="338.20" y1="90.40" x2="340.60" y2="90.40" stroke="#bdbdbd" stroke-width="0.7" />
<line x1="338.20" y1="95.40" x2="340.60" y2="95.40" stroke="#bdbdbd" stroke-width="0.7" />
<line x1="365.20" y1="74.20" x2="365.20" y2="82.20" stroke="#bdbdbd" stroke-width="0.7" />
<line x1="364.00" y1="74.20" x2="366.40" y2="74.20" stroke="#bdbdbd" stroke-width="0.7" />
<line x1="364.00" y1="82.20" x2="366.40" y2="82.20" stroke="#bdbdbd" stroke-width="0.7" />
<line x1="382.40" y1="63.80" x2="382.40" y2="73.80" stroke="#bdbdbd" stroke-width="0.7" />
<line x1="381.20" y1="63.80" x2="383.60" y2="63.80" stroke="#bdbdbd" stroke-width="0.7" />
<line x1="381.20" y1="73.80" x2="383.60" y2="73.80" stroke="#bdbdbd" stroke-width="0.7" />
<line x1="399.60" y1="53.60" x2="399.60" y2="65.60" stroke="#bdbdbd" stroke-width="0.7" />
<line x1="398.40" y1="53.60" x2="400.80" y2="53.60" stroke="#bdbdbd" stroke-width="0.7" />
<line x1="398.40" y1="65.60" x2="400.80" y2="65.60" stroke="#bdbdbd" stroke-width="0.7" />
<line x1="425.40" y1="29.30" x2="425.40" y2="46.30" stroke="#bdbdbd" stroke-width="0.7" />
<line x1="424.20" y1="29.30" x2="426.60" y2="29.30" stroke="#bdbdbd" stroke-width="0.7" />
<line x1="424.20" y1="46.30" x2="426.60" y2="46.30" stroke="#bdbdbd" stroke-width="0.7" />
<polyline points="305.00,133.00 322.20,132.50 339.40,131.30 365.20,131.80 382.40,132.30 399.60,132.70 425.40,132.50 442.60,132.30 459.80,131.80 485.60,130.00 502.80,127.60" fill="none" stroke="#444" stroke-width="0.9" stroke-linejoin="round" stroke-linecap="butt"/>
<polyline points="305.00,129.60 322.20,122.20 339.40,121.20 365.20,120.60 382.40,123.00 399.60,122.20 425.40,117.90 442.60,110.60 459.80,106.50 485.60,94.40 502.80,88.20" fill="none" stroke="#111" stroke-width="1.5" stroke-linejoin="round" stroke-linecap="butt"/>
<polyline points="305.00,128.50 322.20,117.30 339.40,106.50 365.20,99.30 382.40,100.10 399.60,88.40 425.40,79.80 442.60,63.10 459.80,54.70" fill="none" stroke="#111" stroke-width="1.5" stroke-linejoin="round" stroke-linecap="butt"/>
<polyline points="305.00,125.50 322.20,117.00 339.40,107.20 365.20,94.10 382.40,89.50 399.60,84.10 425.40,70.80 442.60,66.60 459.80,46.30" fill="none" stroke="#111" stroke-width="1.4" stroke-linejoin="round" stroke-linecap="butt" stroke-dasharray="1.6,2.2"/>
<polyline points="305.00,123.30 322.20,115.50 339.40,95.40 365.20,82.20 382.40,73.80 399.60,65.60 425.40,46.30" fill="none" stroke="#111" stroke-width="1.6" stroke-linejoin="round" stroke-linecap="butt" stroke-dasharray="5,2.6"/>
<polygon points="305.00,127.20 307.40,129.60 305.00,132.00 302.60,129.60" fill="#a0a0a0" stroke="#555" stroke-width="0.8"/>
<polygon points="322.20,119.80 324.60,122.20 322.20,124.60 319.80,122.20" fill="#a0a0a0" stroke="#555" stroke-width="0.8"/>
<polygon points="339.40,118.80 341.80,121.20 339.40,123.60 337.00,121.20" fill="#a0a0a0" stroke="#555" stroke-width="0.8"/>
<polygon points="365.20,118.20 367.60,120.60 365.20,123.00 362.80,120.60" fill="#a0a0a0" stroke="#555" stroke-width="0.8"/>
<polygon points="382.40,120.60 384.80,123.00 382.40,125.40 380.00,123.00" fill="#a0a0a0" stroke="#555" stroke-width="0.8"/>
<polygon points="399.60,119.80 402.00,122.20 399.60,124.60 397.20,122.20" fill="#a0a0a0" stroke="#555" stroke-width="0.8"/>
<polygon points="425.40,115.50 427.80,117.90 425.40,120.30 423.00,117.90" fill="#a0a0a0" stroke="#555" stroke-width="0.8"/>
<polygon points="442.60,108.20 445.00,110.60 442.60,113.00 440.20,110.60" fill="#a0a0a0" stroke="#555" stroke-width="0.8"/>
<polygon points="459.80,104.10 462.20,106.50 459.80,108.90 457.40,106.50" fill="#a0a0a0" stroke="#555" stroke-width="0.8"/>
<polygon points="485.60,92.00 488.00,94.40 485.60,96.80 483.20,94.40" fill="#a0a0a0" stroke="#555" stroke-width="0.8"/>
<polygon points="502.80,85.80 505.20,88.20 502.80,90.60 500.40,88.20" fill="#a0a0a0" stroke="#555" stroke-width="0.8"/>
<polygon points="305.00,125.86 307.42,130.26 302.58,130.26" fill="#000" stroke="#000" stroke-width="0.6"/>
<polygon points="322.20,114.66 324.62,119.06 319.78,119.06" fill="#000" stroke="#000" stroke-width="0.6"/>
<polygon points="339.40,103.86 341.82,108.26 336.98,108.26" fill="#000" stroke="#000" stroke-width="0.6"/>
<polygon points="365.20,96.66 367.62,101.06 362.78,101.06" fill="#000" stroke="#000" stroke-width="0.6"/>
<polygon points="382.40,97.46 384.82,101.86 379.98,101.86" fill="#000" stroke="#000" stroke-width="0.6"/>
<polygon points="399.60,85.76 402.02,90.16 397.18,90.16" fill="#000" stroke="#000" stroke-width="0.6"/>
<polygon points="425.40,77.16 427.82,81.56 422.98,81.56" fill="#000" stroke="#000" stroke-width="0.6"/>
<polygon points="442.60,60.46 445.02,64.86 440.18,64.86" fill="#000" stroke="#000" stroke-width="0.6"/>
<polygon points="459.80,52.06 462.22,56.46 457.38,56.46" fill="#000" stroke="#000" stroke-width="0.6"/>
<polygon points="305.00,122.50 307.75,127.50 302.25,127.50" fill="#fff" stroke="#444" stroke-width="0.8"/>
<polygon points="322.20,114.00 324.95,119.00 319.45,119.00" fill="#fff" stroke="#444" stroke-width="0.8"/>
<polygon points="339.40,104.20 342.15,109.20 336.65,109.20" fill="#fff" stroke="#444" stroke-width="0.8"/>
<polygon points="365.20,91.10 367.95,96.10 362.45,96.10" fill="#fff" stroke="#444" stroke-width="0.8"/>
<polygon points="382.40,86.50 385.15,91.50 379.65,91.50" fill="#fff" stroke="#444" stroke-width="0.8"/>
<polygon points="399.60,81.10 402.35,86.10 396.85,86.10" fill="#fff" stroke="#444" stroke-width="0.8"/>
<polygon points="425.40,67.80 428.15,72.80 422.65,72.80" fill="#fff" stroke="#444" stroke-width="0.8"/>
<polygon points="442.60,63.60 445.35,68.60 439.85,68.60" fill="#fff" stroke="#444" stroke-width="0.8"/>
<polygon points="459.80,43.30 462.55,48.30 457.05,48.30" fill="#fff" stroke="#444" stroke-width="0.8"/>
<circle cx="305.00" cy="123.30" r="2.5" fill="#fff" stroke="#444" stroke-width="0.8"/>
<circle cx="322.20" cy="115.50" r="2.5" fill="#fff" stroke="#444" stroke-width="0.8"/>
<circle cx="339.40" cy="95.40" r="2.5" fill="#fff" stroke="#444" stroke-width="0.8"/>
<circle cx="365.20" cy="82.20" r="2.5" fill="#fff" stroke="#444" stroke-width="0.8"/>
<circle cx="382.40" cy="73.80" r="2.5" fill="#fff" stroke="#444" stroke-width="0.8"/>
<circle cx="399.60" cy="65.60" r="2.5" fill="#fff" stroke="#444" stroke-width="0.8"/>
<circle cx="425.40" cy="46.30" r="2.5" fill="#fff" stroke="#444" stroke-width="0.8"/>
<line x1="296.80" y1="20.00" x2="313.00" y2="20.00" stroke="#111" stroke-width="1.3" />
<polygon points="304.60,18.08 306.52,20.00 304.60,21.92 302.68,20.00" fill="#a0a0a0" stroke="#555" stroke-width="0.7"/>
<text x="315.00" y="22.80" font-size="7.6" text-anchor="start" font-weight="normal" fill="#2a2a2a" >pVax-TCRβ+ 1.3ng β-gal</text>
<line x1="296.80" y1="32.10" x2="313.00" y2="32.10" stroke="#111" stroke-width="1.4" />
<polygon points="304.60,29.70 306.80,33.70 302.40,33.70" fill="#000" stroke="#000" stroke-width="0.5"/>
<text x="315.00" y="34.90" font-size="7.6" text-anchor="start" font-weight="normal" fill="#2a2a2a" >pVax-TCRβ+ 1.3ng pcDNA</text>
<line x1="296.80" y1="44.60" x2="298.60" y2="44.60" stroke="#111" stroke-width="1.3" />
<line x1="311.20" y1="44.60" x2="313.00" y2="44.60" stroke="#111" stroke-width="1.3" />
<polygon points="304.60,42.08 306.91,46.28 302.29,46.28" fill="#fff" stroke="#444" stroke-width="0.7"/>
<text x="315.00" y="47.40" font-size="7.6" text-anchor="start" font-weight="normal" fill="#2a2a2a" >pVax+ 1.3ng β-gal</text>
<line x1="296.80" y1="56.50" x2="313.00" y2="56.50" stroke="#444" stroke-width="1.0" />
<text x="315.00" y="59.70" font-size="7.6" text-anchor="start" font-weight="normal" fill="#2a2a2a" >gag</text>
<line x1="296.60" y1="68.60" x2="302.40" y2="68.60" stroke="#111" stroke-width="1.4" />
<line x1="309.40" y1="68.60" x2="312.20" y2="68.60" stroke="#111" stroke-width="1.4" />
<circle cx="304.60" cy="68.60" r="2.1" fill="#fff" stroke="#444" stroke-width="0.7"/>
<text x="315.00" y="71.40" font-size="7.6" text-anchor="start" font-weight="normal" fill="#2a2a2a" >naive</text>
<line x1="23.50" y1="188.50" x2="23.50" y2="311.50" stroke="#9a9a9a" stroke-width="1" />
<line x1="23.00" y1="311.50" x2="238.50" y2="311.50" stroke="#9a9a9a" stroke-width="1" />
<line x1="21.00" y1="311.10" x2="23.30" y2="311.10" stroke="#9a9a9a" stroke-width="0.8" />
<text x="19.10" y="315.30" font-size="6.7" text-anchor="end" font-weight="normal" fill="#2a2a2a" >0</text>
<line x1="21.00" y1="288.88" x2="23.30" y2="288.88" stroke="#9a9a9a" stroke-width="0.8" />
<text x="19.10" y="292.08" font-size="6.7" text-anchor="end" font-weight="normal" fill="#2a2a2a" >20</text>
<line x1="21.00" y1="266.66" x2="23.30" y2="266.66" stroke="#9a9a9a" stroke-width="0.8" />
<text x="19.10" y="269.86" font-size="6.7" text-anchor="end" font-weight="normal" fill="#2a2a2a" >40</text>
<line x1="21.00" y1="244.44" x2="23.30" y2="244.44" stroke="#9a9a9a" stroke-width="0.8" />
<text x="19.10" y="247.64" font-size="6.7" text-anchor="end" font-weight="normal" fill="#2a2a2a" >60</text>
<line x1="21.00" y1="222.22" x2="23.30" y2="222.22" stroke="#9a9a9a" stroke-width="0.8" />
<text x="19.10" y="225.42" font-size="6.7" text-anchor="end" font-weight="normal" fill="#2a2a2a" >80</text>
<line x1="21.00" y1="200.00" x2="23.30" y2="200.00" stroke="#9a9a9a" stroke-width="0.8" />
<text x="19.10" y="203.20" font-size="6.7" text-anchor="end" font-weight="normal" fill="#2a2a2a" >100</text>
<line x1="23.50" y1="311.50" x2="23.50" y2="313.60" stroke="#9a9a9a" stroke-width="0.8" />
<text x="24.10" y="323.20" font-size="6.7" text-anchor="middle" font-weight="normal" fill="#2a2a2a" >10</text>
<line x1="54.00" y1="311.50" x2="54.00" y2="313.60" stroke="#9a9a9a" stroke-width="0.8" />
<text x="54.60" y="323.20" font-size="6.7" text-anchor="middle" font-weight="normal" fill="#2a2a2a" >15</text>
<line x1="84.50" y1="311.50" x2="84.50" y2="313.60" stroke="#9a9a9a" stroke-width="0.8" />
<text x="85.10" y="323.20" font-size="6.7" text-anchor="middle" font-weight="normal" fill="#2a2a2a" >20</text>
<line x1="115.00" y1="311.50" x2="115.00" y2="313.60" stroke="#9a9a9a" stroke-width="0.8" />
<text x="115.60" y="323.20" font-size="6.7" text-anchor="middle" font-weight="normal" fill="#2a2a2a" >25</text>
<line x1="145.50" y1="311.50" x2="145.50" y2="313.60" stroke="#9a9a9a" stroke-width="0.8" />
<text x="146.10" y="323.20" font-size="6.7" text-anchor="middle" font-weight="normal" fill="#2a2a2a" >30</text>
<line x1="176.00" y1="311.50" x2="176.00" y2="313.60" stroke="#9a9a9a" stroke-width="0.8" />
<text x="176.60" y="323.20" font-size="6.7" text-anchor="middle" font-weight="normal" fill="#2a2a2a" >35</text>
<line x1="206.50" y1="311.50" x2="206.50" y2="313.60" stroke="#9a9a9a" stroke-width="0.8" />
<text x="207.10" y="323.20" font-size="6.7" text-anchor="middle" font-weight="normal" fill="#2a2a2a" >40</text>
<line x1="237.00" y1="311.50" x2="237.00" y2="313.60" stroke="#9a9a9a" stroke-width="0.8" />
<text x="237.60" y="323.20" font-size="6.7" text-anchor="middle" font-weight="normal" fill="#2a2a2a" >45</text>
<text x="98.60" y="332.00" font-size="6.9" text-anchor="start" font-weight="bold" fill="#2a2a2a" textLength="66.5" lengthAdjust="spacingAndGlyphs">Days after challenge</text>
<text x="0" y="0" font-size="6.9" font-weight="bold" fill="#2a2a2a" text-anchor="middle" transform="translate(6.1,255.75) rotate(-90)" textLength="38.9" lengthAdjust="spacingAndGlyphs">% Survivors</text>
<polyline points="41.80,200.00 115.00,200.00 115.00,222.22 127.20,222.22 127.20,266.66 182.10,266.66 182.10,288.88 206.50,288.88" fill="none" stroke="#999" stroke-width="1.2" stroke-linejoin="round" stroke-linecap="butt"/>
<polyline points="41.80,200.00 115.00,200.00 115.00,213.89 127.20,213.89 127.20,227.78 139.40,227.78 139.40,241.66 182.10,241.66 182.10,255.55 206.50,255.55" fill="none" stroke="#bbb" stroke-width="1.1" stroke-linejoin="round" stroke-linecap="butt"/>
<polyline points="41.80,200.00 115.00,200.00 115.00,215.89 139.40,215.89 139.40,231.77 206.50,231.77" fill="none" stroke="#777" stroke-width="0.9" stroke-linejoin="round" stroke-linecap="butt" stroke-dasharray="5,1.5,0.6,1.5"/>
<polyline points="41.80,200.00 115.00,200.00 115.00,227.78 169.90,227.78 169.90,241.66 182.10,241.66 182.10,252.88 206.50,252.88" fill="none" stroke="#777" stroke-width="0.9" stroke-linejoin="round" stroke-linecap="butt" stroke-dasharray="4,1.4"/>
<polyline points="41.80,200.00 182.10,200.00 182.10,213.89 206.50,213.89" fill="none" stroke="#777" stroke-width="0.9" stroke-linejoin="round" stroke-linecap="butt" stroke-dasharray="8,3"/>
<polyline points="41.80,200.00 206.50,200.00" fill="none" stroke="#777" stroke-width="0.9" stroke-linejoin="round" stroke-linecap="butt" stroke-dasharray="5.5,2.5"/>
<polyline points="41.80,200.00 115.00,200.00" fill="none" stroke="#666" stroke-width="1.8" stroke-linejoin="round" stroke-linecap="butt"/>
<polyline points="115.00,199.20 182.10,199.20" fill="none" stroke="#888" stroke-width="0.9" stroke-linejoin="round" stroke-linecap="butt" stroke-dasharray="5.5,2.5"/>
<polygon points="41.80,197.96 43.84,200.00 41.80,202.04 39.76,200.00" fill="#fff" stroke="#555" stroke-width="0.8"/>
<polygon points="54.00,197.96 56.04,200.00 54.00,202.04 51.96,200.00" fill="#fff" stroke="#555" stroke-width="0.8"/>
<polygon points="72.30,197.96 74.34,200.00 72.30,202.04 70.26,200.00" fill="#fff" stroke="#555" stroke-width="0.8"/>
<polygon points="96.70,197.96 98.74,200.00 96.70,202.04 94.66,200.00" fill="#fff" stroke="#555" stroke-width="0.8"/>
<polygon points="127.20,225.74 129.24,227.78 127.20,229.82 125.16,227.78" fill="#fff" stroke="#555" stroke-width="0.8"/>
<polygon points="127.20,264.62 129.24,266.66 127.20,268.70 125.16,266.66" fill="#fff" stroke="#555" stroke-width="0.8"/>
<polygon points="139.40,264.62 141.44,266.66 139.40,268.70 137.36,266.66" fill="#fff" stroke="#555" stroke-width="0.8"/>
<polygon points="157.70,264.62 159.74,266.66 157.70,268.70 155.66,266.66" fill="#fff" stroke="#555" stroke-width="0.8"/>
<polygon points="169.90,264.62 171.94,266.66 169.90,268.70 167.86,266.66" fill="#fff" stroke="#555" stroke-width="0.8"/>
<circle cx="182.10" cy="288.88" r="1.8" fill="#fff" stroke="#555" stroke-width="0.8"/>
<circle cx="206.50" cy="288.88" r="1.8" fill="#fff" stroke="#555" stroke-width="0.8"/>
<circle cx="41.80" cy="200.00" r="2.1" fill="#fff" stroke="#111" stroke-width="1.1"/>
<circle cx="54.00" cy="200.00" r="2.1" fill="#fff" stroke="#111" stroke-width="1.1"/>
<circle cx="72.30" cy="200.00" r="2.1" fill="#fff" stroke="#111" stroke-width="1.1"/>
<circle cx="96.70" cy="200.00" r="2.1" fill="#fff" stroke="#111" stroke-width="1.1"/>
<circle cx="115.00" cy="213.89" r="1.7" fill="#fff" stroke="#444" stroke-width="0.8"/>
<circle cx="115.00" cy="222.22" r="1.7" fill="#fff" stroke="#444" stroke-width="0.8"/>
<circle cx="127.20" cy="215.33" r="1.7" fill="#fff" stroke="#444" stroke-width="0.8"/>
<circle cx="139.40" cy="241.66" r="1.7" fill="#fff" stroke="#444" stroke-width="0.8"/>
<circle cx="157.70" cy="241.66" r="1.7" fill="#fff" stroke="#444" stroke-width="0.8"/>
<circle cx="169.90" cy="241.66" r="1.7" fill="#fff" stroke="#444" stroke-width="0.8"/>
<circle cx="182.10" cy="255.55" r="1.7" fill="#fff" stroke="#444" stroke-width="0.8"/>
<circle cx="206.50" cy="255.55" r="1.7" fill="#fff" stroke="#444" stroke-width="0.8"/>
<polygon points="115.00,213.39 116.98,216.99 113.02,216.99" fill="#fff" stroke="#444" stroke-width="0.8"/>
<polygon points="139.40,229.61 141.38,233.21 137.42,233.21" fill="#fff" stroke="#444" stroke-width="0.8"/>
<polygon points="157.70,229.61 159.68,233.21 155.72,233.21" fill="#fff" stroke="#444" stroke-width="0.8"/>
<polygon points="169.90,229.61 171.88,233.21 167.92,233.21" fill="#fff" stroke="#444" stroke-width="0.8"/>
<polygon points="182.10,229.61 184.08,233.21 180.12,233.21" fill="#fff" stroke="#444" stroke-width="0.8"/>
<polygon points="206.50,229.61 208.48,233.21 204.52,233.21" fill="#fff" stroke="#444" stroke-width="0.8"/>
<polygon points="115.00,230.06 117.09,226.26 112.91,226.26" fill="#000" stroke="#000" stroke-width="0.4"/>
<polygon points="139.40,230.06 141.49,226.26 137.31,226.26" fill="#000" stroke="#000" stroke-width="0.4"/>
<polygon points="157.70,230.06 159.79,226.26 155.61,226.26" fill="#000" stroke="#000" stroke-width="0.4"/>
<polygon points="169.90,242.83 171.99,239.03 167.81,239.03" fill="#000" stroke="#000" stroke-width="0.4"/>
<polygon points="182.10,255.16 184.19,251.36 180.01,251.36" fill="#000" stroke="#000" stroke-width="0.4"/>
<polygon points="206.50,255.16 208.59,251.36 204.41,251.36" fill="#000" stroke="#000" stroke-width="0.4"/>
<rect x="113.30" y="198.30" width="3.4" height="3.4" fill="#000" stroke="#000" stroke-width="0.4"/>
<rect x="125.50" y="198.30" width="3.4" height="3.4" fill="#000" stroke="#000" stroke-width="0.4"/>
<rect x="137.70" y="198.30" width="3.4" height="3.4" fill="#000" stroke="#000" stroke-width="0.4"/>
<rect x="156.00" y="198.30" width="3.4" height="3.4" fill="#000" stroke="#000" stroke-width="0.4"/>
<rect x="168.20" y="198.30" width="3.4" height="3.4" fill="#000" stroke="#000" stroke-width="0.4"/>
<rect x="180.40" y="212.19" width="3.4" height="3.4" fill="#000" stroke="#000" stroke-width="0.4"/>
<rect x="204.80" y="212.19" width="3.4" height="3.4" fill="#000" stroke="#000" stroke-width="0.4"/>
<polygon points="115.00,197.84 117.16,200.00 115.00,202.16 112.84,200.00" fill="#000" stroke="#000" stroke-width="0.4"/>
<polygon points="127.20,197.84 129.36,200.00 127.20,202.16 125.04,200.00" fill="#000" stroke="#000" stroke-width="0.4"/>
<polygon points="139.40,197.84 141.56,200.00 139.40,202.16 137.24,200.00" fill="#000" stroke="#000" stroke-width="0.4"/>
<polygon points="157.70,197.84 159.86,200.00 157.70,202.16 155.54,200.00" fill="#000" stroke="#000" stroke-width="0.4"/>
<polygon points="169.90,197.84 172.06,200.00 169.90,202.16 167.74,200.00" fill="#000" stroke="#000" stroke-width="0.4"/>
<polygon points="182.10,197.84 184.26,200.00 182.10,202.16 179.94,200.00" fill="#000" stroke="#000" stroke-width="0.4"/>
<polygon points="206.50,197.84 208.66,200.00 206.50,202.16 204.34,200.00" fill="#000" stroke="#000" stroke-width="0.4"/>
<line x1="27.90" y1="257.60" x2="60.50" y2="257.60" stroke="#bbb" stroke-width="1.1" />
<circle cx="44.60" cy="257.60" r="1.7" fill="#fff" stroke="#333" stroke-width="0.8"/>
<text x="62.50" y="260.40" font-size="7.55" text-anchor="start" font-weight="normal" fill="#2a2a2a" >TCRβ+ pcDNA</text>
<line x1="27.90" y1="267.10" x2="60.50" y2="267.10" stroke="#777" stroke-width="0.9" stroke-dasharray="4,1.4" />
<polygon points="44.60,269.26 46.58,265.66 42.62,265.66" fill="#000" stroke="#000" stroke-width="0.4"/>
<text x="62.50" y="269.90" font-size="7.55" text-anchor="start" font-weight="normal" fill="#2a2a2a" >TCRβ+ 33ng β-gal</text>
<line x1="27.90" y1="275.60" x2="60.50" y2="275.60" stroke="#777" stroke-width="0.9" stroke-dasharray="5,1.5,0.6,1.5" />
<polygon points="44.60,273.56 46.47,276.96 42.73,276.96" fill="#fff" stroke="#333" stroke-width="0.8"/>
<text x="62.50" y="278.40" font-size="7.55" text-anchor="start" font-weight="normal" fill="#2a2a2a" >TCRβ+ 6ng β-gal</text>
<line x1="27.90" y1="284.60" x2="60.50" y2="284.60" stroke="#777" stroke-width="0.9" stroke-dasharray="8,3" />
<rect x="42.80" y="282.80" width="3.6" height="3.6" fill="#000" stroke="#000" stroke-width="0.4"/>
<text x="62.50" y="287.40" font-size="7.55" text-anchor="start" font-weight="normal" fill="#2a2a2a" >TCRβ+ 1.3ng β-gal</text>
<line x1="27.90" y1="294.00" x2="60.50" y2="294.00" stroke="#777" stroke-width="0.9" stroke-dasharray="5.5,2.5" />
<polygon points="44.60,291.84 46.76,294.00 44.60,296.16 42.44,294.00" fill="#000" stroke="#000" stroke-width="0.4"/>
<text x="62.50" y="296.80" font-size="7.55" text-anchor="start" font-weight="normal" fill="#2a2a2a" >gag</text>
<line x1="27.90" y1="303.20" x2="60.50" y2="303.20" stroke="#999" stroke-width="1.2" />
<polygon points="45.00,300.92 47.28,303.20 45.00,305.48 42.72,303.20" fill="#fff" stroke="#555" stroke-width="0.8"/>
<text x="62.50" y="306.00" font-size="7.55" text-anchor="start" font-weight="normal" fill="#2a2a2a" >naive</text>
<line x1="291.50" y1="187.30" x2="291.50" y2="310.50" stroke="#9a9a9a" stroke-width="1" />
<line x1="291.00" y1="310.50" x2="520.00" y2="310.50" stroke="#9a9a9a" stroke-width="1" />
<text x="292.00" y="315.90" font-size="6.7" text-anchor="end" font-weight="normal" fill="#2a2a2a" >0</text>
<text x="288.80" y="293.56" font-size="6.7" text-anchor="end" font-weight="normal" fill="#2a2a2a" >50</text>
<text x="288.80" y="273.03" font-size="6.7" text-anchor="end" font-weight="normal" fill="#2a2a2a" >100</text>
<text x="288.80" y="252.49" font-size="6.7" text-anchor="end" font-weight="normal" fill="#2a2a2a" >150</text>
<text x="288.80" y="231.96" font-size="6.7" text-anchor="end" font-weight="normal" fill="#2a2a2a" >200</text>
<text x="288.80" y="211.42" font-size="6.7" text-anchor="end" font-weight="normal" fill="#2a2a2a" >250</text>
<text x="288.80" y="190.89" font-size="6.7" text-anchor="end" font-weight="normal" fill="#2a2a2a" >300</text>
<text x="304.40" y="319.60" font-size="6.7" text-anchor="middle" font-weight="normal" fill="#2a2a2a" >7</text>
<text x="327.25" y="319.60" font-size="6.7" text-anchor="middle" font-weight="normal" fill="#2a2a2a" >10</text>
<text x="350.10" y="319.60" font-size="6.7" text-anchor="middle" font-weight="normal" fill="#2a2a2a" >12</text>
<text x="372.95" y="319.60" font-size="6.7" text-anchor="middle" font-weight="normal" fill="#2a2a2a" >14</text>
<text x="395.80" y="319.60" font-size="6.7" text-anchor="middle" font-weight="normal" fill="#2a2a2a" >17</text>
<text x="418.65" y="319.60" font-size="6.7" text-anchor="middle" font-weight="normal" fill="#2a2a2a" >19</text>
<text x="441.50" y="319.60" font-size="6.7" text-anchor="middle" font-weight="normal" fill="#2a2a2a" >21</text>
<text x="464.35" y="319.60" font-size="6.7" text-anchor="middle" font-weight="normal" fill="#2a2a2a" >24</text>
<text x="487.20" y="319.60" font-size="6.7" text-anchor="middle" font-weight="normal" fill="#2a2a2a" >26</text>
<text x="375.80" y="331.60" font-size="6.9" text-anchor="start" font-weight="bold" fill="#2a2a2a" textLength="65.5" lengthAdjust="spacingAndGlyphs">Days after challenge</text>
<text x="0" y="0" font-size="6.9" font-weight="bold" fill="#2a2a2a" text-anchor="middle" transform="translate(271.2,242.45) rotate(-90)">Average tumor size (mm<tspan font-size="4.5" dy="-2.6">3</tspan><tspan dy="2.6">)</tspan></text>
<line x1="348.50" y1="284.00" x2="348.50" y2="294.00" stroke="#c4c4c4" stroke-width="0.7" />
<line x1="347.50" y1="284.00" x2="349.50" y2="284.00" stroke="#c4c4c4" stroke-width="0.7" />
<line x1="347.50" y1="294.00" x2="349.50" y2="294.00" stroke="#c4c4c4" stroke-width="0.7" />
<line x1="371.35" y1="268.00" x2="371.35" y2="289.00" stroke="#c4c4c4" stroke-width="0.7" />
<line x1="370.35" y1="268.00" x2="372.35" y2="268.00" stroke="#c4c4c4" stroke-width="0.7" />
<line x1="370.35" y1="289.00" x2="372.35" y2="289.00" stroke="#c4c4c4" stroke-width="0.7" />
<line x1="394.20" y1="258.00" x2="394.20" y2="293.00" stroke="#c4c4c4" stroke-width="0.7" />
<line x1="393.20" y1="258.00" x2="395.20" y2="258.00" stroke="#c4c4c4" stroke-width="0.7" />
<line x1="393.20" y1="293.00" x2="395.20" y2="293.00" stroke="#c4c4c4" stroke-width="0.7" />
<line x1="417.05" y1="243.00" x2="417.05" y2="299.00" stroke="#c4c4c4" stroke-width="0.7" />
<line x1="416.05" y1="243.00" x2="418.05" y2="243.00" stroke="#c4c4c4" stroke-width="0.7" />
<line x1="416.05" y1="299.00" x2="418.05" y2="299.00" stroke="#c4c4c4" stroke-width="0.7" />
<line x1="439.90" y1="237.00" x2="439.90" y2="262.00" stroke="#c4c4c4" stroke-width="0.7" />
<line x1="438.90" y1="237.00" x2="440.90" y2="237.00" stroke="#c4c4c4" stroke-width="0.7" />
<line x1="438.90" y1="262.00" x2="440.90" y2="262.00" stroke="#c4c4c4" stroke-width="0.7" />
<line x1="439.90" y1="276.00" x2="439.90" y2="301.00" stroke="#c4c4c4" stroke-width="0.7" />
<line x1="438.90" y1="276.00" x2="440.90" y2="276.00" stroke="#c4c4c4" stroke-width="0.7" />
<line x1="438.90" y1="301.00" x2="440.90" y2="301.00" stroke="#c4c4c4" stroke-width="0.7" />
<line x1="462.75" y1="220.00" x2="462.75" y2="299.00" stroke="#c4c4c4" stroke-width="0.7" />
<line x1="461.75" y1="220.00" x2="463.75" y2="220.00" stroke="#c4c4c4" stroke-width="0.7" />
<line x1="461.75" y1="299.00" x2="463.75" y2="299.00" stroke="#c4c4c4" stroke-width="0.7" />
<line x1="485.60" y1="185.00" x2="485.60" y2="218.00" stroke="#c4c4c4" stroke-width="0.7" />
<line x1="484.60" y1="185.00" x2="486.60" y2="185.00" stroke="#c4c4c4" stroke-width="0.7" />
<line x1="484.60" y1="218.00" x2="486.60" y2="218.00" stroke="#c4c4c4" stroke-width="0.7" />
<line x1="485.60" y1="243.00" x2="485.60" y2="300.00" stroke="#c4c4c4" stroke-width="0.7" />
<line x1="484.60" y1="243.00" x2="486.60" y2="243.00" stroke="#c4c4c4" stroke-width="0.7" />
<line x1="484.60" y1="300.00" x2="486.60" y2="300.00" stroke="#c4c4c4" stroke-width="0.7" />
<polyline points="302.80,304.60 325.65,297.00 348.50,292.40 371.35,297.20 394.20,294.30 417.05,296.30 439.90,292.30 462.75,287.70 485.60,283.20" fill="none" stroke="#333" stroke-width="0.9" stroke-linejoin="round" stroke-linecap="butt"/>
<polyline points="302.80,303.70 325.65,297.50 348.50,297.20 371.35,292.00 394.20,290.50 417.05,285.30 439.90,287.70 462.75,274.80 485.60,265.50" fill="none" stroke="#111" stroke-width="1.0" stroke-linejoin="round" stroke-linecap="butt"/>
<polyline points="302.80,298.40 325.65,286.60 348.50,263.40 371.35,256.50 394.20,222.60 417.05,205.10 439.90,196.00" fill="none" stroke="#222" stroke-width="1.0" stroke-linejoin="round" stroke-linecap="butt"/>
<polyline points="302.80,305.60 325.65,296.90 348.50,287.80 371.35,278.40 394.20,268.00 417.05,257.40 439.90,248.50 462.75,238.80 485.60,197.90" fill="none" stroke="#333" stroke-width="1.1" stroke-linejoin="round" stroke-linecap="butt" stroke-dasharray="4,2.4"/>
<polyline points="302.80,301.20 325.65,287.00 348.50,273.30 371.35,263.30 394.20,248.90 417.05,243.70 439.90,230.30 462.75,225.20 485.60,213.20" fill="none" stroke="#333" stroke-width="1.1" stroke-linejoin="round" stroke-linecap="butt" stroke-dasharray="4,2.4"/>
<rect x="301.40" y="297.00" width="2.8" height="2.8" fill="#fff" stroke="#444" stroke-width="0.6"/>
<rect x="324.25" y="285.20" width="2.8" height="2.8" fill="#fff" stroke="#444" stroke-width="0.6"/>
<rect x="347.10" y="262.00" width="2.8" height="2.8" fill="#fff" stroke="#444" stroke-width="0.6"/>
<rect x="369.95" y="255.10" width="2.8" height="2.8" fill="#fff" stroke="#444" stroke-width="0.6"/>
<rect x="392.80" y="221.20" width="2.8" height="2.8" fill="#fff" stroke="#444" stroke-width="0.6"/>
<rect x="415.65" y="203.70" width="2.8" height="2.8" fill="#fff" stroke="#444" stroke-width="0.6"/>
<rect x="438.50" y="194.60" width="2.8" height="2.8" fill="#fff" stroke="#444" stroke-width="0.6"/>
<circle cx="302.80" cy="301.20" r="1.5" fill="#fff" stroke="#555" stroke-width="0.6"/>
<circle cx="325.65" cy="287.00" r="1.5" fill="#fff" stroke="#555" stroke-width="0.6"/>
<circle cx="348.50" cy="273.30" r="1.5" fill="#fff" stroke="#555" stroke-width="0.6"/>
<circle cx="371.35" cy="263.30" r="1.5" fill="#fff" stroke="#555" stroke-width="0.6"/>
<circle cx="394.20" cy="248.90" r="1.5" fill="#fff" stroke="#555" stroke-width="0.6"/>
<circle cx="417.05" cy="243.70" r="1.5" fill="#fff" stroke="#555" stroke-width="0.6"/>
<circle cx="439.90" cy="230.30" r="1.5" fill="#fff" stroke="#555" stroke-width="0.6"/>
<circle cx="462.75" cy="225.20" r="1.5" fill="#fff" stroke="#555" stroke-width="0.6"/>
<circle cx="485.60" cy="213.20" r="1.5" fill="#fff" stroke="#555" stroke-width="0.6"/>
<circle cx="302.80" cy="305.60" r="1.5" fill="#fff" stroke="#555" stroke-width="0.6"/>
<circle cx="325.65" cy="296.90" r="1.5" fill="#fff" stroke="#555" stroke-width="0.6"/>
<circle cx="348.50" cy="287.80" r="1.5" fill="#fff" stroke="#555" stroke-width="0.6"/>
<circle cx="371.35" cy="278.40" r="1.5" fill="#fff" stroke="#555" stroke-width="0.6"/>
<circle cx="394.20" cy="268.00" r="1.5" fill="#fff" stroke="#555" stroke-width="0.6"/>
<circle cx="417.05" cy="257.40" r="1.5" fill="#fff" stroke="#555" stroke-width="0.6"/>
<circle cx="439.90" cy="248.50" r="1.5" fill="#fff" stroke="#555" stroke-width="0.6"/>
<circle cx="462.75" cy="238.80" r="1.5" fill="#fff" stroke="#555" stroke-width="0.6"/>
<polygon points="485.60,196.10 487.25,199.10 483.95,199.10" fill="#fff" stroke="#555" stroke-width="0.6"/>
<polygon points="302.80,302.14 304.23,304.74 301.37,304.74" fill="#000" stroke="#000" stroke-width="0.4"/>
<polygon points="325.65,295.94 327.08,298.54 324.22,298.54" fill="#000" stroke="#000" stroke-width="0.4"/>
<polygon points="348.50,295.64 349.93,298.24 347.07,298.24" fill="#000" stroke="#000" stroke-width="0.4"/>
<polygon points="371.35,290.44 372.78,293.04 369.92,293.04" fill="#000" stroke="#000" stroke-width="0.4"/>
<polygon points="394.20,288.94 395.63,291.54 392.77,291.54" fill="#000" stroke="#000" stroke-width="0.4"/>
<polygon points="417.05,283.74 418.48,286.34 415.62,286.34" fill="#000" stroke="#000" stroke-width="0.4"/>
<polygon points="439.90,286.14 441.33,288.74 438.47,288.74" fill="#000" stroke="#000" stroke-width="0.4"/>
<polygon points="462.75,273.24 464.18,275.84 461.32,275.84" fill="#000" stroke="#000" stroke-width="0.4"/>
<polygon points="485.60,263.94 487.03,266.54 484.17,266.54" fill="#000" stroke="#000" stroke-width="0.4"/>
<line x1="301.50" y1="304.60" x2="304.10" y2="304.60" stroke="#222" stroke-width="0.96"/>
<line x1="324.35" y1="297.00" x2="326.95" y2="297.00" stroke="#222" stroke-width="0.96"/>
<line x1="347.20" y1="292.40" x2="349.80" y2="292.40" stroke="#222" stroke-width="0.96"/>
<line x1="370.05" y1="297.20" x2="372.65" y2="297.20" stroke="#222" stroke-width="0.96"/>
<line x1="392.90" y1="294.30" x2="395.50" y2="294.30" stroke="#222" stroke-width="0.96"/>
<line x1="415.75" y1="296.30" x2="418.35" y2="296.30" stroke="#222" stroke-width="0.96"/>
<line x1="438.60" y1="292.30" x2="441.20" y2="292.30" stroke="#222" stroke-width="0.96"/>
<line x1="461.45" y1="287.70" x2="464.05" y2="287.70" stroke="#222" stroke-width="0.96"/>
<line x1="484.30" y1="283.20" x2="486.90" y2="283.20" stroke="#222" stroke-width="0.96"/>
<line x1="305.20" y1="194.60" x2="316.40" y2="194.60" stroke="#222" stroke-width="1.0" />
<rect x="309.90" y="193.50" width="2.2" height="2.2" fill="#fff" stroke="#555" stroke-width="0.5"/>
<text x="318.60" y="198.90" font-size="6.8" text-anchor="start" font-weight="normal" fill="#2a2a2a" >TCRβ + 0.4ng pcDNA</text>
<line x1="305.20" y1="206.80" x2="316.40" y2="206.80" stroke="#222" stroke-width="1.0" />
<polygon points="311.00,205.24 312.43,207.84 309.57,207.84" fill="#000" stroke="#000" stroke-width="0.4"/>
<text x="318.60" y="211.10" font-size="6.8" text-anchor="start" font-weight="normal" fill="#2a2a2a" >TCRβ + 0.4ng β-gal</text>
<line x1="305.20" y1="218.80" x2="316.40" y2="218.80" stroke="#222" stroke-width="1.0" />
<line x1="310.00" y1="218.80" x2="312.00" y2="218.80" stroke="#333" stroke-width="0.96"/>
<text x="318.60" y="223.10" font-size="6.8" text-anchor="start" font-weight="normal" fill="#2a2a2a" >TCRβ + 0.4ng FrC</text>
<line x1="305.20" y1="230.90" x2="309.20" y2="230.90" stroke="#777" stroke-width="1.0" />
<line x1="313.20" y1="230.90" x2="314.80" y2="231.90" stroke="#555" stroke-width="0.9" />
<circle cx="311.00" cy="230.90" r="1.0" fill="#fff" stroke="#777" stroke-width="0.5"/>
<text x="318.60" y="235.20" font-size="6.8" text-anchor="start" font-weight="normal" fill="#2a2a2a" >pVax + 0.4ng FrC</text>
<line x1="305.20" y1="242.90" x2="309.20" y2="242.90" stroke="#777" stroke-width="1.0" />
<line x1="313.20" y1="242.90" x2="314.80" y2="243.90" stroke="#555" stroke-width="0.9" />
<circle cx="311.00" cy="242.90" r="1.1" fill="#fff" stroke="#777" stroke-width="0.5"/>
<text x="318.60" y="247.20" font-size="6.8" text-anchor="start" font-weight="normal" fill="#2a2a2a" >naive</text>
</svg>
</body></html>
